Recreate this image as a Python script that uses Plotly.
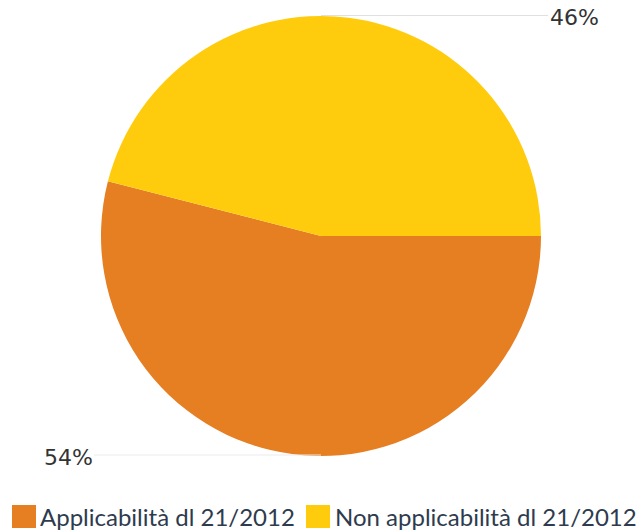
import plotly.graph_objects as go

labels = ["Applicabilità dl 21/2012", "Non applicabilità dl 21/2012"]
values = [54, 46]
colors = ["#E67E22", "#FFCC0D"]

W, H = 640, 530
cx, cy, r = 321, 236, 220

total = sum(values)
pct = [f"{round(v / total * 100)}%" for v in values]

fig = go.Figure(go.Pie(
    labels=labels, values=values, sort=False, direction="clockwise", rotation=90,
    marker=dict(colors=colors, line=dict(width=0)),
    textinfo="none", hoverinfo="label+percent", showlegend=False,
    domain=dict(x=[(cx - r) / W, (cx + r) / W], y=[1 - (cy + r) / H, 1 - (cy - r) / H]),
))

def px(x):
    return x / W

def py(y):
    return 1 - y / H

# leader lines and labels
fig.add_shape(type="line", xref="paper", yref="paper",
              x0=px(cx), x1=px(548), y0=py(15.5), y1=py(15.5),
              line=dict(color="#E0E0E0", width=1))
fig.add_shape(type="line", xref="paper", yref="paper",
              x0=px(94), x1=px(cx), y0=py(455), y1=py(455),
              line=dict(color="#EBEBEB", width=1))
fig.add_annotation(xref="paper", yref="paper", x=px(548), y=py(18),
                   text=pct[1], showarrow=False, xanchor="left", yanchor="middle",
                   font=dict(family="DejaVu Sans", size=22, color="#333333"))
fig.add_annotation(xref="paper", yref="paper", x=px(95), y=py(457),
                   text=pct[0], showarrow=False, xanchor="right", yanchor="middle",
                   font=dict(family="DejaVu Sans", size=22, color="#333333"))

# custom legend
legend_items = [(12, 40), (306, 335)]
for (sx, tx), lab, col in zip(legend_items, labels, colors):
    fig.add_shape(type="rect", xref="paper", yref="paper",
                  x0=px(sx), x1=px(sx + 24), y0=py(528), y1=py(505),
                  fillcolor=col, line=dict(width=0))
    fig.add_annotation(xref="paper", yref="paper", x=px(tx - 2), y=py(516.5),
                       text=lab, showarrow=False, xanchor="left", yanchor="middle",
                       font=dict(family="Lato", size=24, color="#2E3B4E"))

fig.update_layout(
    width=W, height=H, margin=dict(l=0, r=0, t=0, b=0),
    paper_bgcolor="white", plot_bgcolor="white",
    showlegend=False,
)

fig.write_html("out.html")
